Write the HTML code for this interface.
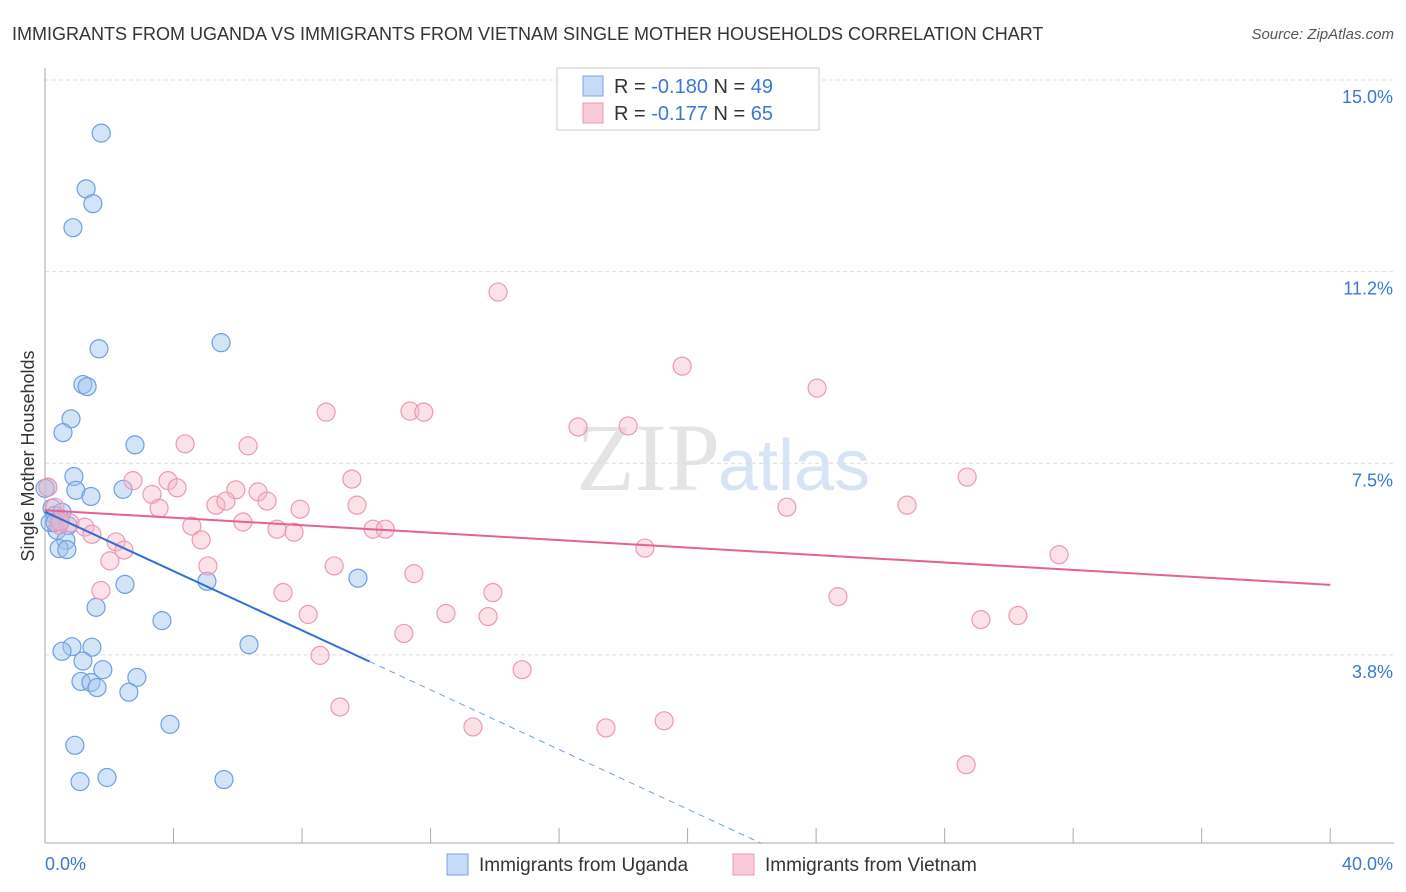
<!DOCTYPE html>
<html><head><meta charset="utf-8"><style>
body{margin:0;background:#fff;font-family:"Liberation Sans",sans-serif;}
#wrap{position:relative;width:1406px;height:892px;overflow:hidden;}
</style></head><body>
<div id="wrap">
<svg id="svg" width="1406" height="892">
<text x="12" y="40" font-size="18" fill="#333">IMMIGRANTS FROM UGANDA VS IMMIGRANTS FROM VIETNAM SINGLE MOTHER HOUSEHOLDS CORRELATION CHART</text>
<text x="1394" y="39" font-size="15" fill="#555" text-anchor="end" font-style="italic">Source: ZipAtlas.com</text>
<text x="34" y="456" font-size="18" fill="#333" text-anchor="middle" transform="rotate(-90 34 456)">Single Mother Households</text>
<text x="720" y="490" font-size="96" fill="#e4e4e4" text-anchor="end" font-family="Liberation Serif">ZIP</text>
<text x="718" y="490" font-size="72" fill="#d6e4f5">atlas</text>
<g id="grid"></g><g id="marks"></g>
<rect x="557" y="68" width="262" height="62" fill="#fff" stroke="#ccc"/>
<rect x="583" y="76" width="20" height="20" fill="#c6dbf7" stroke="#7aa6e0"/>
<rect x="583" y="103" width="20" height="20" fill="#f9cbd8" stroke="#e89ab1"/>
<text x="614" y="93" font-size="20" fill="#333">R = <tspan fill="#3a78d6">-0.180</tspan>   N = <tspan fill="#3a78d6">49</tspan></text>
<text x="614" y="120" font-size="20" fill="#333">R = <tspan fill="#3a78d6"> -0.177</tspan>   N = <tspan fill="#3a78d6">65</tspan></text>
<rect x="447" y="854" width="21" height="21" fill="#c6dbf7" stroke="#7aa6e0"/>
<text x="479" y="871" font-size="19" fill="#333">Immigrants from Uganda</text>
<rect x="733" y="854" width="21" height="21" fill="#f9cbd8" stroke="#e89ab1"/>
<text x="765" y="871" font-size="19" fill="#333">Immigrants from Vietnam</text>
</svg>
</div>
<script>
const xTicks=["0.0%","40.0%"];
const yTickValues=[15,11.25,7.5,3.75];
const yTickLabels=["15.0%","11.2%","7.5%","3.8%"];
const ugandaX=[1.75,1.28,1.49,0.87,1.68,5.48,1.18,1.31,0.81,0.56,2.80,0.90,0.96,1.43,2.43,0.09,0.22,0.31,0.47,0.37,0.72,0.65,0.44,0.68,2.49,5.04,9.74,1.59,3.64,0.84,0.53,1.46,6.35,1.18,1.80,1.12,1.43,1.62,2.86,2.61,3.89,0.93,1.09,1.93,5.57,0.0,0.16,0.53,0.31];
const ugandaY=[13.96,12.87,12.58,12.11,9.74,9.86,9.04,9.00,8.37,8.10,7.86,7.24,6.97,6.85,6.99,7.03,6.62,6.48,6.42,6.19,6.28,5.99,5.83,5.81,5.13,5.19,5.25,4.68,4.42,3.91,3.82,3.90,3.95,3.63,3.46,3.23,3.21,3.11,3.31,3.02,2.39,1.98,1.27,1.35,1.31,7.01,6.34,6.54,6.34];
const vietX=[14.10,19.83,24.03,8.75,11.36,11.79,16.59,18.15,4.36,6.32,9.55,28.70,2.74,3.83,4.11,5.94,6.63,3.33,6.91,3.55,5.32,5.63,7.94,9.71,23.09,26.83,6.16,4.57,7.22,7.75,10.21,10.59,0.31,0.44,0.78,1.24,1.46,2.21,2.46,4.86,18.67,31.56,2.02,5.07,9.00,11.48,1.74,7.41,13.94,24.68,8.19,12.48,13.79,29.13,30.28,11.17,8.56,14.85,19.27,9.18,13.32,17.46,28.67,0.09,0.47];
const vietY=[10.85,9.40,8.97,8.50,8.52,8.50,8.21,8.23,7.88,7.84,7.19,7.23,7.16,7.16,7.02,6.98,6.94,6.89,6.76,6.62,6.68,6.76,6.60,6.68,6.64,6.68,6.35,6.27,6.21,6.15,6.21,6.21,6.64,6.29,6.33,6.25,6.11,5.96,5.80,6.00,5.84,5.71,5.59,5.49,5.49,5.34,5.01,4.97,4.97,4.89,4.54,4.56,4.50,4.44,4.52,4.17,3.74,3.46,2.46,2.73,2.34,2.32,1.60,7.03,6.36];
const trendU=[[0,6.55],[10.1,3.62]];
const trendUDash=[[10.1,3.62],[22.3,0.06]];
const trendV=[[0,6.58],[40,5.12]];
const ns="http://www.w3.org/2000/svg";
function X(v){return 45+v*32.13;}
function Y(v){return 80+(15-v)*51.1;}
function mk(t,a,parent){const e=document.createElementNS(ns,t);for(const k in a)e.setAttribute(k,a[k]);parent.appendChild(e);return e;}
const grid=document.getElementById('grid'),marks=document.getElementById('marks');
yTickValues.forEach((v,i)=>{
 const l=mk('line',{x1:45,x2:1394,y1:Y(v),y2:Y(v),stroke:'#ddd','stroke-dasharray':'4,3'},grid);
 
 
 const t=mk('text',{x:1393,y:Y(v)+23,'font-size':18,fill:'#3a78d6','text-anchor':'end'},grid);
 t.textContent=yTickLabels[i];
 
 
});
const ax=mk('line',{x1:45,x2:45,y1:68,y2:843,stroke:'#aaa'},grid);


const bx=mk('line',{x1:45,x2:1394,y1:843,y2:843,stroke:'#aaa'},grid);


for(let i=0;i<=10;i++){
 const tk=mk('line',{x1:X(i*4),x2:X(i*4),y1:828,y2:843,stroke:'#aaa'},grid);
 
 
}
[[0,'start',45],[1,'end',1393]].forEach(([i,a,x])=>{
 const t=mk('text',{x:x,y:870,'font-size':18,fill:'#3a78d6','text-anchor':a},grid);
 t.textContent=xTicks[i];
 
 
});
ugandaX.forEach((v,i)=>{
 const c=mk('circle',{cx:X(v),cy:Y(ugandaY[i]),r:9,fill:'rgba(160,196,240,0.45)',stroke:'#6f9fe0','stroke-width':1.2},marks);
 
 
});
vietX.forEach((v,i)=>{
 const c=mk('circle',{cx:X(v),cy:Y(vietY[i]),r:9,fill:'rgba(248,180,200,0.4)',stroke:'#eb9ab3','stroke-width':1.2},marks);
 
 
});
const lu=mk('line',{x1:X(trendU[0][0]),y1:Y(trendU[0][1]),x2:X(trendU[1][0]),y2:Y(trendU[1][1]),stroke:'#2f6fd6','stroke-width':2},marks);


const ld=mk('line',{x1:X(trendUDash[0][0]),y1:Y(trendUDash[0][1]),x2:X(trendUDash[1][0]),y2:Y(trendUDash[1][1]),stroke:'#6f9fe0','stroke-width':1,'stroke-dasharray':'6,5'},marks);


const lv=mk('line',{x1:X(trendV[0][0]),y1:Y(trendV[0][1]),x2:X(trendV[1][0]),y2:Y(trendV[1][1]),stroke:'#e5628f','stroke-width':2},marks);


</script>
</body></html>
